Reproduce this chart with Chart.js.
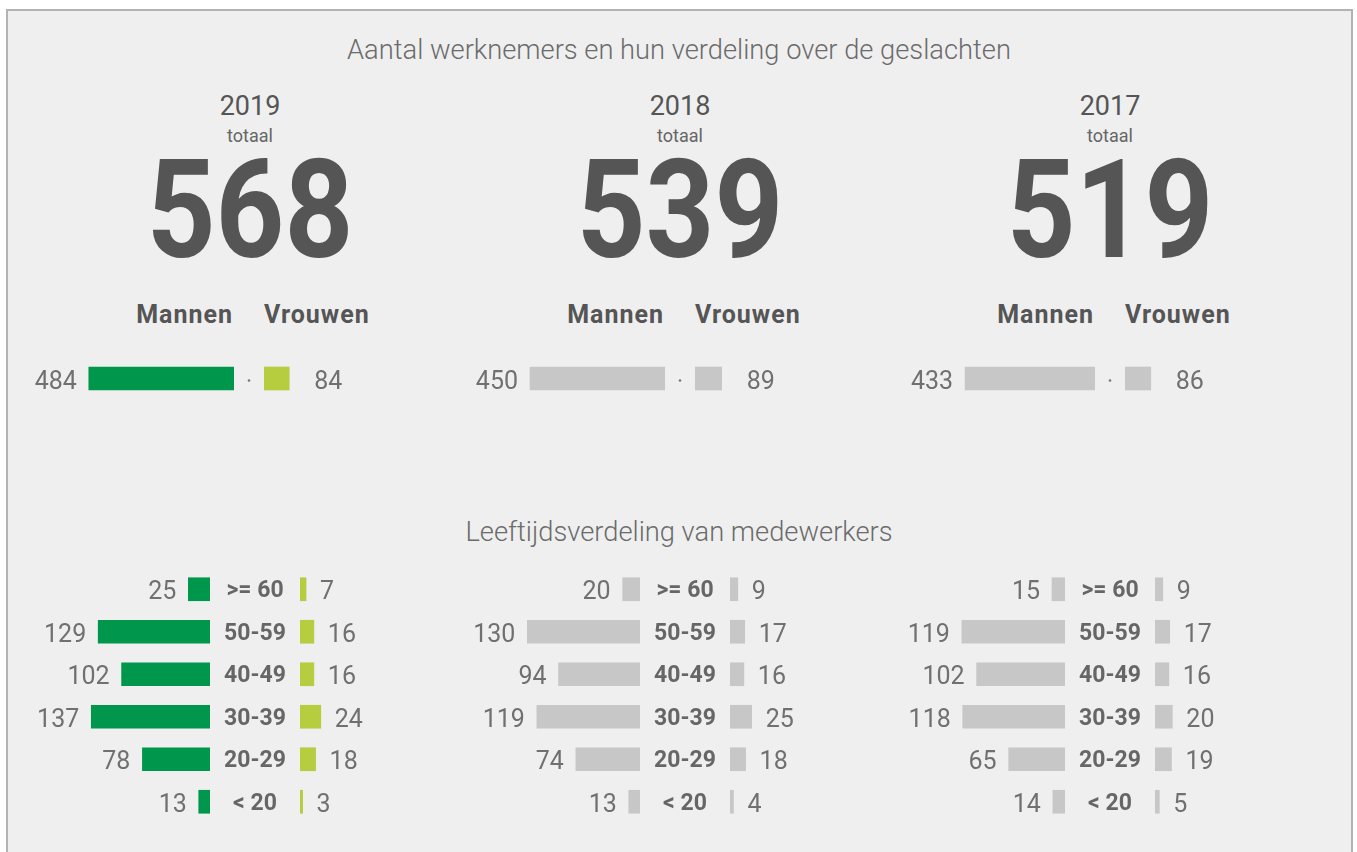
<!DOCTYPE html>
<html>
<head>
<meta charset="utf-8">
<script src="https://cdn.jsdelivr.net/npm/chart.js@4.4.1/dist/chart.umd.min.js"></script>
<style>
  body { margin: 0; background: #fff; font-family: Roboto, sans-serif; overflow: hidden; }
  #kader {
    position: absolute; left: 6px; top: 9px; width: 1343px; height: 860px;
    background: #efefef; border: 2px solid #b3b3b3; border-bottom: none;
  }
  .tekst { position: absolute; white-space: nowrap; line-height: 1; }
  canvas { position: absolute; }
</style>
</head>
<body>
<div id="kader"></div>
<script>
const jaren = ["2019", "2018", "2017"];
const totalen = [568, 539, 519];
const mannen = [484, 450, 433];
const vrouwen = [84, 89, 86];
const leeftijden = [">= 60", "50-59", "40-49", "30-39", "20-29", "< 20"];
const mannenLeeftijd = [
  [25, 129, 102, 137, 78, 13],
  [20, 130, 94, 119, 74, 13],
  [15, 119, 102, 118, 65, 14],
];
const vrouwenLeeftijd = [
  [7, 16, 16, 24, 18, 3],
  [9, 17, 16, 25, 18, 4],
  [9, 17, 16, 20, 19, 5],
];

// midden van elke kolom
const kolomX = [250, 680, 1110];
const geslachtX = [249, 680, 1110];
const leeftijdX = [255, 685, 1110];

const groen = "#00964b";
const limoen = "#b5cd3f";
const grijs = "#c7c7c7";

function tekst(t, x, basis, grootte, gewicht, kleur, uitlijning) {
  const d = document.createElement("div");
  d.className = "tekst";
  d.textContent = t;
  d.style.fontSize = grootte + "px";
  d.style.fontWeight = gewicht;
  d.style.color = kleur;
  d.style.top = basis - 0.842 * grootte + "px";
  d.style.width = "800px";
  d.style.textAlign = uitlijning || "center";
  if (uitlijning === "left") d.style.left = x + "px";
  else if (uitlijning === "right") d.style.left = x - 800 + "px";
  else d.style.left = x - 400 + "px";
  document.body.appendChild(d);
  return d;
}

function waardeLabels(afstand, links) {
  return {
    id: "waardes",
    afterDatasetsDraw(chart) {
      const ctx = chart.ctx;
      const meta = chart.getDatasetMeta(0);
      ctx.save();
      ctx.font = "400 25px Roboto";
      ctx.fillStyle = "#707070";
      ctx.textAlign = links ? "right" : "left";
      ctx.textBaseline = "alphabetic";
      meta.data.forEach((bar, i) => {
        const x = links ? bar.x - afstand : bar.x + afstand;
        ctx.fillText(chart.data.datasets[0].data[i], x, bar.y + 10);
      });
      ctx.restore();
    },
  };
}

const categorieLabels = {
  id: "categorie",
  afterDatasetsDraw(chart) {
    const ctx = chart.ctx;
    const y = chart.scales.y;
    ctx.save();
    ctx.font = "700 23px Roboto";
    ctx.fillStyle = "#666";
    ctx.textAlign = "center";
    chart.data.labels.forEach((l, i) => {
      ctx.fillText(l, chart.chartArea.left - 45, y.getPixelForValue(i) + 8);
    });
    ctx.restore();
  },
};

const puntje = {
  id: "puntje",
  afterDatasetsDraw(chart) {
    const ctx = chart.ctx;
    const y = chart.scales.y.getPixelForValue(0);
    ctx.save();
    ctx.fillStyle = "#777";
    ctx.beginPath();
    ctx.arc(chart.chartArea.left - 15, y + 2, 1.3, 0, Math.PI * 2);
    ctx.fill();
    ctx.restore();
  },
};

function maakBalken(o) {
  const c = document.createElement("canvas");
  c.width = o.breedte;
  c.height = o.hoogte;
  c.style.left = o.links + "px";
  c.style.top = o.boven + "px";
  document.body.appendChild(c);
  return new Chart(c.getContext("2d"), {
    type: "bar",
    data: {
      labels: o.labels,
      datasets: [{ data: o.waarden, backgroundColor: o.kleur, barThickness: 23 }],
    },
    options: {
      indexAxis: "y",
      responsive: false,
      animation: false,
      layout: { padding: { left: o.padLinks || 0, right: o.padRechts || 0, top: 0, bottom: 0 } },
      plugins: { legend: { display: false }, tooltip: { enabled: false } },
      scales: {
        x: { display: false, min: 0, max: o.max, reverse: !!o.omgekeerd },
        y: { display: false },
      },
    },
    plugins: [waardeLabels(o.afstand, o.omgekeerd)].concat(o.extra || []),
  });
}

// titels
tekst("Aantal werknemers en hun verdeling over de geslachten", 679, 60, 27.3, 300, "#6b6b6b");
tekst("Leeftijdsverdeling van medewerkers", 679, 541.7, 27.3, 300, "#6b6b6b");

jaren.forEach((jaar, k) => {
  const cx = kolomX[k];
  tekst(jaar, cx, 116, 27, 400, "#555");
  tekst("totaal", cx, 141.7, 18, 400, "#666");
  const groot = tekst(String(totalen[k]), cx, 257.3, 138, 700, "#555");
  groot.style.transform = "scaleX(0.87)";

  const gx = geslachtX[k];
  const m = tekst("Mannen", gx - 16, 323, 25, 700, "#555", "right");
  const v = tekst("Vrouwen", gx + 15, 323, 25, 700, "#555", "left");
  m.style.letterSpacing = "1px";
  v.style.letterSpacing = "1px";

  const actief = k === 0;

  // geslacht: mannen naar links, vrouwen naar rechts
  maakBalken({
    links: gx - 15 - 225, boven: 358, breedte: 225, hoogte: 41,
    labels: [jaar], waarden: [mannen[k]], kleur: actief ? groen : grijs,
    max: 750, omgekeerd: true, afstand: 12,
  });
  maakBalken({
    links: gx - 15, boven: 358, breedte: 130, hoogte: 41, padLinks: 30, padRechts: 10,
    labels: [jaar], waarden: [vrouwen[k]], kleur: actief ? limoen : grijs,
    max: 300, afstand: 25, extra: [puntje],
  });

  // leeftijd
  const lx = leeftijdX[k];
  maakBalken({
    links: lx - 45 - 182, boven: 568, breedte: 182, hoogte: 255,
    labels: leeftijden, waarden: mannenLeeftijd[k], kleur: actief ? groen : grijs,
    max: 210, omgekeerd: true, afstand: 12,
  });
  maakBalken({
    links: lx - 45, boven: 568, breedte: 192, hoogte: 255, padLinks: 90, padRechts: 50,
    labels: leeftijden, waarden: vrouwenLeeftijd[k], kleur: actief ? limoen : grijs,
    max: 60, afstand: 14, extra: [categorieLabels],
  });
});
</script>
</body>
</html>
